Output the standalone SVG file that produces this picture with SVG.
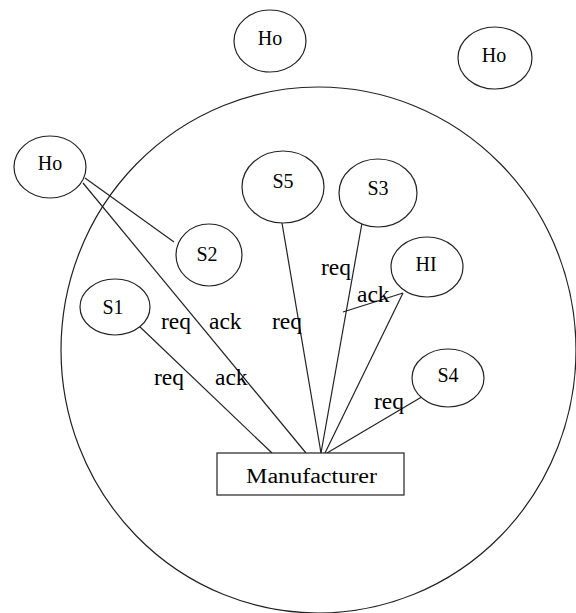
<svg xmlns="http://www.w3.org/2000/svg" width="576" height="613" viewBox="0 0 576 613">
<style>
.n{fill:#fff;stroke:#222;stroke-width:1.2}
.c{fill:none;stroke:#222;stroke-width:1.2}
.t{font-size:20px;fill:#000;text-anchor:middle}
.l{font-size:23.5px;fill:#000}
</style>
<rect width="576" height="613" fill="#fff"/>
<g font-family="Liberation Serif, DejaVu Serif, serif">
<ellipse id="boundary" cx="318.5" cy="350" rx="257.5" ry="263" class="c"/>
<g id="connectors">
<line x1="85" y1="178" x2="174" y2="242" class="c"/>
<line x1="83" y1="183" x2="306" y2="453" class="c"/>
<line x1="138" y1="325" x2="272" y2="453" class="c"/>
<line x1="282" y1="223" x2="321" y2="453" class="c"/>
<line x1="362" y1="223" x2="321" y2="453" class="c"/>
<line x1="403" y1="293" x2="325" y2="453" class="c"/>
<line x1="403" y1="293" x2="343" y2="312" class="c"/>
<line x1="425" y1="395" x2="327" y2="453" class="c"/>
<text class="l" x="161" y="329">req</text>
<text class="l" x="209" y="329">ack</text>
<text class="l" x="272" y="329">req</text>
<text class="l" x="154" y="385">req</text>
<text class="l" x="215" y="385">ack</text>
<text class="l" x="374" y="409">req</text>
<text class="l" x="321" y="275">req</text>
<text class="l" x="357" y="302">ack</text>
</g>
<g id="ho1"><ellipse cx="50" cy="167" rx="36" ry="31" class="n"/><text class="t" x="50" y="170">Ho</text></g>
<g id="ho2"><ellipse cx="270" cy="41" rx="36" ry="31" class="n"/><text class="t" x="270" y="45">Ho</text></g>
<g id="ho3"><ellipse cx="495" cy="58" rx="37" ry="31" class="n"/><text class="t" x="494" y="62">Ho</text></g>
<g id="s5"><ellipse cx="283" cy="187" rx="41" ry="36" class="n"/><text class="t" x="283" y="188">S5</text></g>
<g id="s3"><ellipse cx="378" cy="193" rx="39" ry="34" class="n"/><text class="t" x="378" y="195">S3</text></g>
<g id="hi"><ellipse cx="427" cy="267" rx="36" ry="30" class="n"/><text class="t" x="426" y="271">HI</text></g>
<g id="s2"><ellipse cx="209" cy="255" rx="33" ry="31" class="n"/><text class="t" x="207" y="261">S2</text></g>
<g id="s1"><ellipse cx="115" cy="307" rx="35" ry="28" class="n"/><text class="t" x="113" y="314">S1</text></g>
<g id="s4"><ellipse cx="448" cy="378" rx="36" ry="29" class="n"/><text class="t" x="448" y="382">S4</text></g>
<g id="manufacturer"><rect x="217" y="453" width="187" height="42" class="n"/><text class="t" x="311.5" y="483" font-size="23" textLength="131" lengthAdjust="spacingAndGlyphs">Manufacturer</text></g>
</g>
</svg>
